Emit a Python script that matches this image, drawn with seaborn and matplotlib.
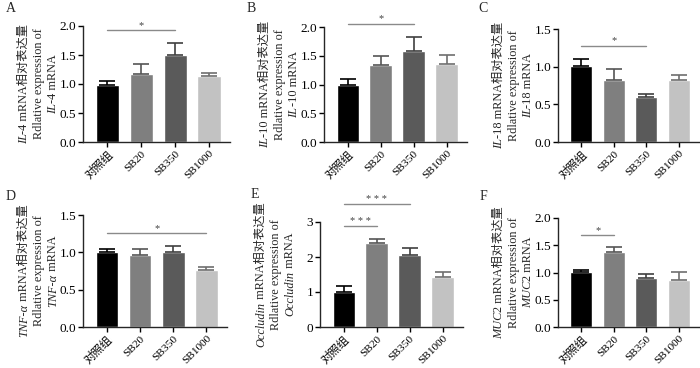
"""qPCR relative expression panels A-F"""
import pandas as pd
import seaborn as sns
import matplotlib.pyplot as plt

groups = ['对照组', 'SB20', 'SB350', 'SB1000']
bar_colors = ['#000000', '#7f7f7f', '#5a5a5a', '#c2c2c2']
err_colors = ['#000000', '#555555', '#3f3f3f', '#6e6e6e']

il4_mean = [0.99, 1.18, 1.50, 1.14]
il4_err = [0.06, 0.16, 0.20, 0.05]
il10_mean = [1.00, 1.34, 1.59, 1.36]
il10_err = [0.09, 0.16, 0.24, 0.16]
il18_mean = [1.01, 0.82, 0.60, 0.82]
il18_err = [0.09, 0.15, 0.04, 0.07]
tnf_mean = [1.01, 0.96, 1.01, 0.77]
tnf_err = [0.03, 0.09, 0.07, 0.04]
occ_mean = [0.99, 2.41, 2.07, 1.44]
occ_err = [0.19, 0.10, 0.19, 0.12]
muc2_mean = [1.01, 1.37, 0.89, 0.87]
muc2_err = [0.04, 0.09, 0.09, 0.14]

# significance brackets: (start group, end group, height, label)
il4_sig = [(0, 2, 1.93, '*')]
il10_sig = [(0, 2, 2.06, '*')]
il18_sig = [(0, 2, 1.28, '*')]
tnf_sig = [(0, 3, 1.26, '*')]
occ_sig = [(0, 1, 2.90, '* * *'), (0, 2, 3.52, '* * *')]
muc2_sig = [(0, 1, 1.69, '*')]

FAMILY = ['Liberation Serif', 'Noto Sans CJK SC']

sns.set_style('ticks')
plt.rcParams['font.family'] = FAMILY
plt.rcParams['axes.linewidth'] = 1.0

fig = plt.figure(figsize=(7, 3.68), dpi=100)
W, H = 700, 368


def px_axes(left, right, top, bottom):
    return fig.add_axes([left / W, 1 - bottom / H, (right - left) / W, (bottom - top) / H])


panels = [
    ('A', (11, 8), (83, 230, 26, 142), il4_mean, il4_err, il4_sig, (0, 2.0),
     [0, 0.5, 1.0, 1.5, 2.0], '{:.1f}', 'IL', '-4'),
    ('B', (251, 8), (324, 467, 27, 142), il10_mean, il10_err, il10_sig, (0, 2.0),
     [0, 0.5, 1.0, 1.5, 2.0], '{:.1f}', 'IL', '-10'),
    ('C', (483, 9), (558, 699, 29, 142), il18_mean, il18_err, il18_sig, (0, 1.5),
     [0, 0.5, 1.0, 1.5], '{:.1f}', 'IL', '-18'),
    ('D', (11, 196), (83, 227, 215, 327), tnf_mean, tnf_err, tnf_sig, (0, 1.5),
     [0, 0.5, 1.0, 1.5], '{:.1f}', 'TNF-α', ''),
    ('E', (255, 195), (320, 463, 222, 327), occ_mean, occ_err, occ_sig, (0, 3),
     [0, 1, 2, 3], '{:.0f}', 'Occludin', ''),
    ('F', (483, 196), (558, 699, 218, 327), muc2_mean, muc2_err, muc2_sig, (0, 2.0),
     [0, 0.5, 1.0, 1.5, 2.0], '{:.1f}', 'MUC', '2'),
]

label_jobs = []
for letter, lpos, box, means, errs, sigs, ylim, yticks, fmt, gene, suffix in panels:
    ax = px_axes(*box)
    df = pd.DataFrame({'group': groups, 'value': means})
    sns.barplot(data=df, x='group', y='value', hue='group', palette=bar_colors,
                order=groups, hue_order=groups, legend=False, errorbar=None,
                width=0.68, saturation=1, ax=ax)
    for i, (m, e) in enumerate(zip(means, errs)):
        ax.errorbar(i, m, yerr=[[0], [e]], color=err_colors[i], capsize=6,
                    elinewidth=1.2, capthick=1.2, zorder=1)
    for a, b, h, lab in sigs:
        ax.plot([a, b], [h, h], color='#8a8a8a', lw=1, clip_on=False)
        ax.text((a + b) / 2, h, lab, ha='center', va='bottom', fontsize=7.5,
                color='#444444', clip_on=False)
    ax.set_ylim(*ylim)
    ax.set_yticks(yticks)
    ax.set_yticklabels([fmt.format(v) for v in yticks])
    ax.set_xlim(-0.72, 3.62)
    ax.set_xlabel('')
    ax.set_ylabel('')
    ax.tick_params(axis='both', length=3.5, width=1, pad=1.5, colors='black')
    ax.tick_params(axis='y', labelsize=9.5)
    ax.tick_params(axis='x', labelsize=8.2)
    ax.set_xticks(range(len(groups)))
    ax.set_xticklabels(groups, rotation=45, ha='right', rotation_mode='anchor')
    sns.despine(ax=ax)
    fig.text(lpos[0] / W, 1 - lpos[1] / H, letter, fontsize=10, ha='center', va='center')

    line1 = [(gene, True), (suffix + ' mRNA相对表达量', False)]
    line2 = [('Rdlative expression of', False)]
    line3 = [(gene, True), (suffix + ' mRNA', False)]
    label_jobs.append((ax, [line1, line2, line3]))


def rich_ylabel(ax, lines, offsets, size=8.8):
    """Vertical multi-line label with italic pieces, centred on the axes"""
    r = fig.canvas.get_renderer()
    bb = ax.get_window_extent(r)
    yc = (bb.y0 + bb.y1) / 2
    inv = fig.transFigure.inverted()
    for segs, off in zip(lines, offsets):
        x = bb.x0 - off
        texts = []
        for s, it in segs:
            if not s:
                continue
            t = fig.text(0, 0, s, rotation=90, rotation_mode='anchor', ha='left',
                         va='baseline', fontsize=size, family=FAMILY,
                         style='italic' if it else 'normal')
            texts.append(t)
        lens = [t.get_window_extent(r).height for t in texts]
        y = yc - sum(lens) / 2
        for t, ln in zip(texts, lens):
            t.set_position(inv.transform((x, y)))
            y += ln


fig.canvas.draw()
for ax, lines in label_jobs:
    rich_ylabel(ax, lines, [56, 41, 27])

fig.savefig('out.png', dpi=100)
